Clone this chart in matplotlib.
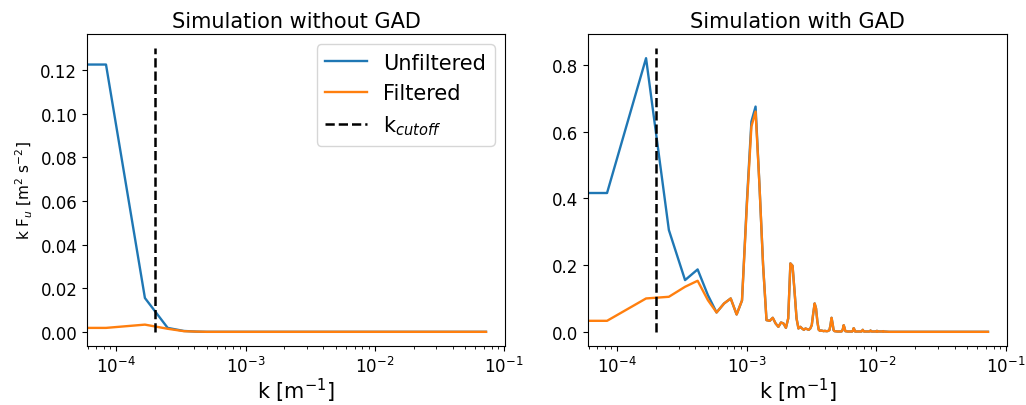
import numpy as np
import matplotlib
matplotlib.use("Agg")
import matplotlib.pyplot as plt

# wavenumber grid: k = n * dk
dk = 1.0 / 12000.0
k_cutoff = 2e-4
n_last = 870

# --- simulation without GAD ---
left_n = [0, 1, 2, 3, 4, 5, 6, n_last]
left_unf = [0.1225, 0.1225, 0.0155, 0.0018, 0.0004, 0.0001, 0.0, 0.0]
left_fil = [0.0018, 0.0018, 0.0033, 0.0014, 0.0003, 0.0001, 0.0, 0.0]

# --- simulation with GAD ---
right_n = list(range(0, 58)) + [60, 64, 65, 66, 67, 68, 69, 72, 78, 79, 80, 81, 82,
                                  92, 93, 94, 95, 96, 106, 107, 108, 109, 110,
                                  120, 121, 122, 134, 135, 136, 150, n_last]
right_fil = [0.033, 0.033, 0.100, 0.105, 0.135, 0.153, 0.095, 0.058, 0.085, 0.100,
             0.052, 0.094, 0.380, 0.615, 0.660, 0.440, 0.200, 0.035, 0.033, 0.042,
             0.025, 0.015, 0.028, 0.025, 0.012, 0.040, 0.205, 0.198, 0.120, 0.040,
             0.010, 0.015, 0.010, 0.006, 0.010, 0.008, 0.006, 0.010, 0.020, 0.055,
             0.085, 0.070, 0.030, 0.006, 0.003, 0.004, 0.003, 0.002, 0.003, 0.002,
             0.002, 0.003, 0.005, 0.020, 0.042, 0.025, 0.005, 0.002,
             0.001, 0.001, 0.002, 0.008, 0.020, 0.012, 0.002, 0.001, 0.001, 0.004,
             0.011, 0.007, 0.001,
             0.001, 0.003, 0.006, 0.003, 0.001, 0.001, 0.002, 0.004, 0.002, 0.001,
             0.001, 0.003, 0.001, 0.001, 0.002, 0.001, 0.0, 0.0]
# unfiltered differs only at the largest scales (n = 0..14)
right_unf_head = [0.416, 0.416, 0.820, 0.305, 0.155, 0.187, 0.110, 0.058, 0.085,
                  0.100, 0.052, 0.094, 0.390, 0.630, 0.675]
right_unf = right_unf_head + right_fil[len(right_unf_head):]

blue = '#1f77b4'
orange = '#ff7f0e'

fig = plt.figure(figsize=(10.26, 4.06), dpi=100)
ax1 = fig.add_axes([0.0848, 0.1453, 0.4074, 0.7685])
ax2 = fig.add_axes([0.5731, 0.1453, 0.4084, 0.7685])

panels = [
    (ax1, left_n, left_unf, left_fil, 0.13, 'Simulation without GAD'),
    (ax2, right_n, right_unf, right_fil, 0.85, 'Simulation with GAD'),
]

for ax, n, unf, fil, vtop, title in panels:
    k = np.array(n) * dk
    ax.set_xscale('log')
    ax.plot(k, unf, color=blue, lw=1.7, label='Unfiltered')
    ax.plot(k, fil, color=orange, lw=1.7, label='Filtered')
    ax.vlines(k_cutoff, 0, vtop, colors='k', linestyles='--', lw=1.8,
              label='k$_{cutoff}$')
    ax.set_title(title, fontsize=15, pad=5)
    ax.set_xlabel('k [m$^{-1}$]', fontsize=15, labelpad=0)
    ax.tick_params(labelsize=12)

ax1.set_ylabel('k F$_u$ [m$^2$ s$^{-2}$]', fontsize=11)
ax1.legend(loc='upper right', fontsize=15)

fig.savefig('out.png', dpi=100)
